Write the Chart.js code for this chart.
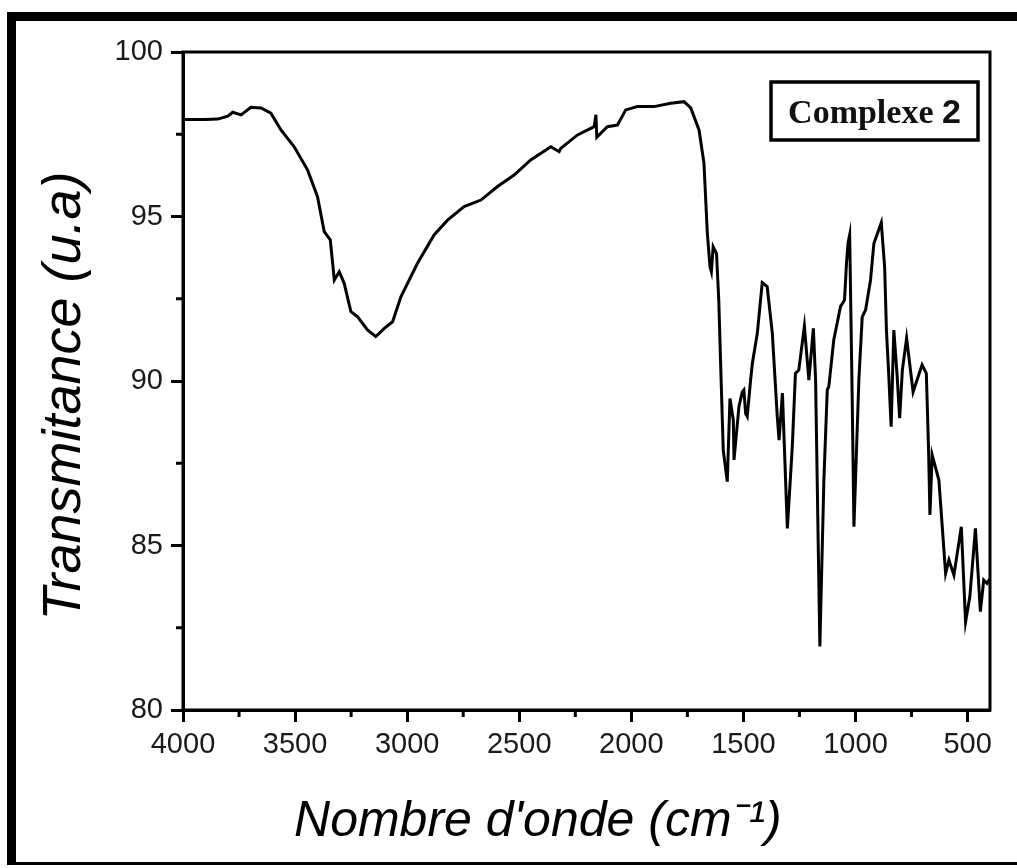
<!DOCTYPE html>
<html>
<head>
<meta charset="utf-8">
<script src="https://cdn.jsdelivr.net/npm/chart.js@4.4.1/dist/chart.umd.min.js"></script>
<style>
  html, body { margin: 0; padding: 0; background: #fff; }
  #frame {
    position: absolute; left: 7px; top: 12px; width: 1010px; height: 853px;
    border-top: 9px solid #000; border-left: 9px solid #000; border-bottom: 3px solid #000;
    box-sizing: border-box;
  }
  #wrap { position: absolute; left: 0; top: 0; width: 1017px; height: 868px; }
</style>
</head>
<body>
<div id="frame"></div>
<div id="wrap"><canvas id="chart"></canvas></div>
<script>
// IR spectrum
const wavenumbers = [
  4000, 3900, 3845, 3800, 3778, 3741, 3697, 3652, 3608, 3563, 3504, 3444, 3400, 3370, 3343, 3325,
  3303, 3281, 3251, 3221, 3177, 3140, 3102, 3065, 3028, 2954, 2880, 2820, 2746, 2671, 2597, 2523,
  2449, 2359, 2322, 2315, 2240, 2166, 2158, 2154, 2107, 2062, 2025, 1973, 1899, 1824, 1765, 1735,
  1698, 1676, 1661, 1649, 1643, 1635, 1620, 1610, 1599, 1590, 1572, 1560, 1545, 1542, 1520, 1505,
  1498, 1490, 1483, 1468, 1460, 1438, 1416, 1394, 1371, 1349, 1341, 1326, 1304, 1282, 1268, 1253,
  1228, 1208, 1188, 1178, 1159, 1141, 1126, 1119, 1097, 1067, 1049, 1040, 1033, 1026, 1015, 1007,
  985, 970, 955, 933, 918, 885, 870, 862, 852, 841, 829, 815, 803, 791, 772, 743,
  703, 684, 674, 668, 658, 628, 598, 583, 561, 528, 509, 490, 465, 443, 428, 413, 400
];
const transmittance = [
  97.95, 97.95, 97.96, 98.05, 98.17, 98.09, 98.32, 98.30, 98.14, 97.63, 97.12, 96.41, 95.60, 94.54, 94.29, 93.07,
  93.32, 92.97, 92.11, 91.95, 91.55, 91.35, 91.60, 91.80, 92.56, 93.58, 94.44, 94.89, 95.30, 95.50, 95.91, 96.26,
  96.72, 97.12, 96.97, 97.07, 97.48, 97.73, 98.09, 97.41, 97.73, 97.78, 98.24, 98.34, 98.34, 98.44, 98.49, 98.30,
  97.63, 96.62, 94.49, 93.47, 93.32, 94.08, 93.88, 92.46, 89.93, 87.90, 86.94, 89.47, 88.81, 87.60, 89.22, 89.67,
  89.73, 89.01, 88.92, 90.03, 90.54, 91.45, 92.99, 92.87, 91.45, 88.92, 88.20, 89.63, 85.52, 88.00, 90.23, 90.33,
  91.67, 90.03, 91.60, 90.03, 81.93, 86.99, 89.73, 89.83, 91.25, 92.26, 92.46, 93.60, 94.20, 94.44, 89.60, 85.57,
  90.03, 91.95, 92.16, 93.07, 94.18, 94.81, 93.47, 91.55, 90.23, 88.61, 91.55, 90.23, 88.87, 90.33, 91.30, 89.67,
  90.49, 90.23, 87.90, 85.93, 87.75, 86.99, 84.15, 84.56, 84.10, 85.57, 82.68, 83.44, 85.52, 82.99, 83.95, 83.85, 84.00
];
const seriesLabel = 'Complexe 2';
const xTicks = [4000, 3500, 3000, 2500, 2000, 1500, 1000, 500];
const yTicks = [80, 85, 90, 95, 100];
const xMinorTicks = [3750, 3250, 2750, 2250, 1750, 1250, 750];
const yMinorTicks = [97.5, 92.5, 87.5, 82.5];

const points = wavenumbers.map((w, i) => ({ x: w, y: transmittance[i] }));

// minor ticks, outer box and the label box
const decorations = {
  id: 'decorations',
  afterDraw(chart) {
    const { ctx, chartArea, scales } = chart;
    ctx.save();
    ctx.strokeStyle = '#000';
    ctx.lineWidth = 3;
    ctx.beginPath();
    yMinorTicks.forEach(v => {
      const y = scales.y.getPixelForValue(v);
      ctx.moveTo(chartArea.left - 7, y);
      ctx.lineTo(chartArea.left, y);
    });
    xMinorTicks.forEach(v => {
      const x = scales.x.getPixelForValue(v);
      ctx.moveTo(x, chartArea.bottom);
      ctx.lineTo(x, chartArea.bottom + 7);
    });
    ctx.stroke();
    ctx.strokeRect(chartArea.left, chartArea.top, chartArea.right - chartArea.left, chartArea.bottom - chartArea.top);

    // label box
    const bx = chartArea.right - 219, by = chartArea.top + 30, bw = 207, bh = 58;
    ctx.lineWidth = 3.5;
    ctx.strokeRect(bx, by, bw, bh);
    const parts = seriesLabel.split(' ');
    ctx.fillStyle = '#111';
    ctx.textBaseline = 'alphabetic';
    ctx.font = 'bold 34px "Liberation Serif", "Times New Roman", serif';
    const first = parts[0] + ' ';
    const w1 = ctx.measureText(first).width;
    ctx.font = 'bold 34px "Liberation Sans", Arial, sans-serif';
    const w2 = ctx.measureText(parts[1]).width;
    const sx = bx + (bw - w1 - w2) / 2;
    ctx.font = 'bold 34px "Liberation Serif", "Times New Roman", serif';
    ctx.fillText(first, sx, by + 41);
    ctx.font = 'bold 34px "Liberation Sans", Arial, sans-serif';
    ctx.fillText(parts[1], sx + w1, by + 41);
    ctx.restore();
  }
};

new Chart(document.getElementById('chart').getContext('2d'), {
  type: 'line',
  data: {
    datasets: [{
      label: seriesLabel,
      data: points,
      borderColor: '#000',
      borderWidth: 3,
      pointRadius: 0,
      tension: 0,
      fill: false
    }]
  },
  options: {
    responsive: true,
    maintainAspectRatio: false,
    animation: false,
    layout: { padding: { left: 0, top: 52, right: 27, bottom: 0 } },
    plugins: {
      legend: { display: false },
      tooltip: { enabled: false }
    },
    scales: {
      x: {
        type: 'linear',
        reverse: true,
        min: 400,
        max: 4000,
        afterFit: s => { s.height = 158; },
        afterBuildTicks: s => { s.ticks = xTicks.map(v => ({ value: v })); },
        ticks: {
          color: '#1a1a1a',
          padding: 6,
          maxRotation: 0,
          autoSkip: false,
          callback: v => String(v),
          font: { family: '"Liberation Sans", Arial, sans-serif', size: 29 }
        },
        grid: { drawOnChartArea: false, tickLength: 12, tickWidth: 3, tickColor: '#000' },
        border: { display: true, color: '#000', width: 3 },
        title: {
          display: true,
          text: "Nombre d'onde (cm\u207B\u00B9)" + '       ',
          color: '#000',
          padding: { top: 0, bottom: 16 },
          font: { family: '"Liberation Sans", "Noto Sans", Arial, sans-serif', size: 50, style: 'italic', weight: 'normal' }
        }
      },
      y: {
        min: 80,
        max: 100,
        afterFit: s => { s.width = 183; },
        afterBuildTicks: s => { s.ticks = yTicks.map(v => ({ value: v })); },
        ticks: {
          color: '#1a1a1a',
          padding: 8,
          callback: v => String(v),
          font: { family: '"Liberation Sans", Arial, sans-serif', size: 29 }
        },
        grid: { drawOnChartArea: false, tickLength: 12, tickWidth: 3, tickColor: '#000' },
        border: { display: true, color: '#000', width: 3 },
        title: {
          display: true,
          text: 'Transmitance (u.a)' + '  ',
          color: '#000',
          padding: { top: 33, bottom: 0 },
          font: { family: '"Liberation Sans", Arial, sans-serif', size: 54, style: 'italic', weight: 'normal' }
        }
      }
    }
  },
  plugins: [decorations]
});
</script>
</body>
</html>
